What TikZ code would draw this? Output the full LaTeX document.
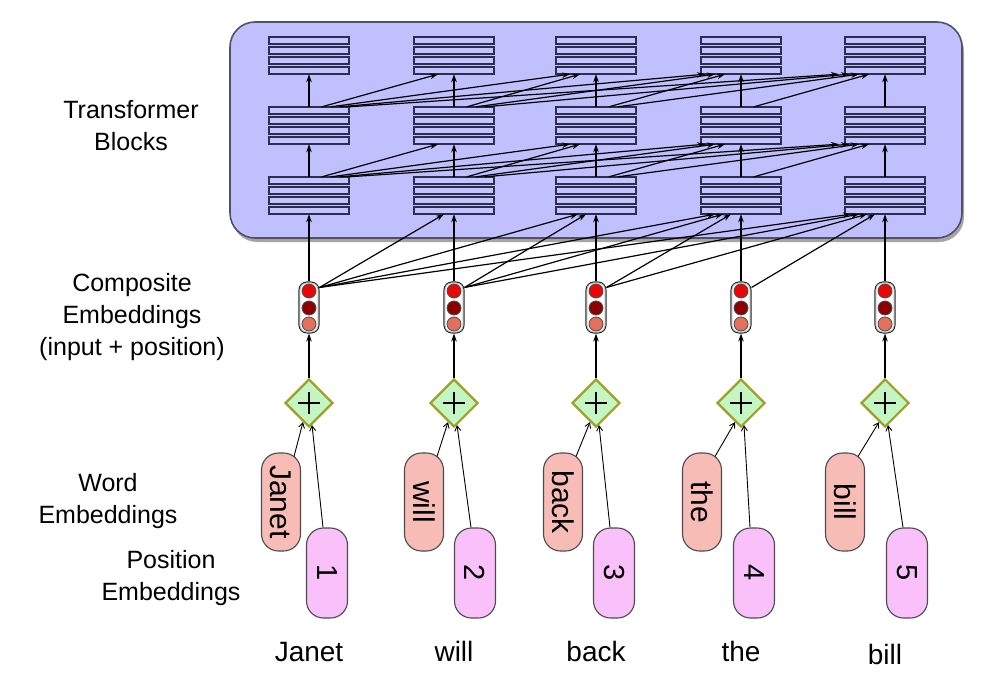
\documentclass[tikz,border=0pt]{standalone}
\usepackage{fontspec}
\usepackage{graphicx}
\setmainfont{Liberation Sans}
\usetikzlibrary{shapes.geometric,calc,arrows.meta,shadows}
\definecolor{boxfill}{RGB}{192,192,255}
\definecolor{boxdraw}{RGB}{80,80,105}
\definecolor{barfill}{RGB}{196,196,255}
\definecolor{bardraw}{RGB}{45,45,80}
\definecolor{plusfill}{RGB}{196,246,196}
\definecolor{plusdraw}{RGB}{160,160,40}
\definecolor{wordfill}{RGB}{248,188,182}
\definecolor{posfill}{RGB}{250,192,250}
\definecolor{redA}{RGB}{232,8,8}
\definecolor{redB}{RGB}{140,0,0}
\definecolor{redC}{RGB}{226,112,92}
\begin{document}
\begin{tikzpicture}[x=1pt,y=-1pt,
  lbl/.style={font=\fontsize{25}{32}\selectfont, align=center, inner sep=0},
  bword/.style={font=\fontsize{28}{30}\selectfont, anchor=base, inner sep=0},
  blk/.style={rectangle, minimum width=80pt, minimum height=37pt, inner sep=0, draw=none},
  bar/.style={draw=bardraw, fill=barfill, line width=1.5pt},
  conn/.style={line width=1.2pt, -{Stealth[length=8pt,width=5.5pt]}},
  barb/.style={line width=0.9pt, -{Straight Barb[length=5pt,width=6pt]}},
  comp/.style={rectangle, rounded corners=8pt, minimum width=20pt, minimum height=51pt, draw=black!85, fill=white, line width=1.1pt, inner sep=0},
  dot/.style={circle, minimum size=14pt, inner sep=0, draw=black!70, line width=0.8pt},
  plus/.style={diamond, aspect=1, minimum size=48pt, inner sep=0, fill=plusfill, draw=plusdraw, line width=2.2pt},
  wpill/.style={rectangle, rounded corners=17pt, minimum width=39pt, minimum height=98pt, fill=wordfill, draw=black!70, line width=1.1pt, inner sep=0, font=\fontsize{30}{30}\selectfont},
  ppill/.style={rectangle, rounded corners=17pt, minimum width=41pt, minimum height=90pt, fill=posfill, draw=black!70, line width=1.1pt, inner sep=0, font=\fontsize{29}{30}\selectfont}
]
\useasboundingbox (0,0) rectangle (1000,687);

% transformer container
\node[rectangle, rounded corners=25pt, minimum width=732pt, minimum height=216pt, fill=boxfill, draw=boxdraw, line width=1.6pt,
  drop shadow={shadow xshift=2pt, shadow yshift=-4pt, opacity=0.5, fill=black!70}] (tbox) at (596,130) {};

% left labels
\node[lbl] (ltb) at (131,126) {Transformer\\Blocks};
\node[lbl] (lce) at (132,317) {Composite\\Embeddings\\(input + position)};
\node[lbl] (lwe) at (108,501) {Word\\Embeddings};
\node[lbl] (lpe) at (171,578) {Position\\Embeddings};

% columns
\foreach \i/\c/\wo/\po/\w/\by in {1/309/-28/18/Janet/661, 2/454/-30/21/will/661, 3/596/-33/18/back/661, 4/741/-39/13/the/661, 5/885/-40/22/bill/664} {
  % blocks
  \foreach \L/\yy in {1/195.5, 2/125.5, 3/55.5} {
    \node[blk] (b\L-\i) at (\c,\yy) {};
    \foreach \k in {0,...,3}
      \draw[bar] ($(b\L-\i.north west)+(0,\k*10)$) rectangle ++(80,7);
  }
  % composite embedding
  \node[comp] (e\i) at (\c,307.5) {};
  \draw[black!30, line width=0.8pt, rounded corners=6.5pt] ($(e\i.north west)+(1.6,1.6)$) rectangle ($(e\i.south east)+(-1.6,-1.6)$);
  \node[dot, fill=redA] (e\i-a) at (\c,291) {};
  \node[dot, fill=redB] (e\i-b) at (\c,308) {};
  \node[dot, fill=redC] (e\i-c) at (\c,324) {};
  % adder
  \node[plus] (d\i) at (\c,403) {};
  \draw[line width=2pt] ($(d\i)+(-11,0)$) -- ($(d\i)+(11,0)$);
  \draw[line width=2pt] ($(d\i)+(0,-11)$) -- ($(d\i)+(0,11)$);
  % word and position pills
  \node[wpill] (w\i) at (\c+\wo,502) {\rotatebox{-90}{\w}};
  \node[ppill] (p\i) at (\c+\po,573) {\rotatebox{-90}{\i}};
  % bottom word
  \node[bword] (t\i) at (\c,\by) {\w};
  % connectors
  \draw[barb] ($(w\i.north)+(13,4)$) -- ($(d\i.south)+(-6,-6)$);
  \draw[barb] ($(p\i.north)+(-4,0)$) -- ($(d\i.south)+(3,-3)$);
  \draw[conn] (d\i.north) -- (e\i.south);
}

% composite -> first blocks
\foreach \i in {1,...,5} {
  \foreach \j in {\i,...,5} {
    \pgfmathtruncatemacro\d{\j-\i}
    \ifnum\d=0
      \draw[conn] (e\i.north) -- (b1-\i.south);
    \else
      \draw[conn] ($(e\i.north east)+(0,6)$) -- ($(b1-\j.south)+(-2-8*\d,0)$);
    \fi
  }
}

% block -> block
\foreach \L/\U in {1/2, 2/3} {
  \foreach \i in {1,...,5} {
    \foreach \j in {\i,...,5} {
      \pgfmathtruncatemacro\d{\j-\i}
      \ifnum\d=0
        \draw[conn] (b\L-\i.north) -- (b\U-\i.south);
      \else
        \draw[conn] ($(b\L-\i.north)+(4+9*\d,0)$) -- ($(b\U-\j.south)+(-6-10*\d,0)$);
      \fi
    }
  }
}
\end{tikzpicture}
\end{document}
